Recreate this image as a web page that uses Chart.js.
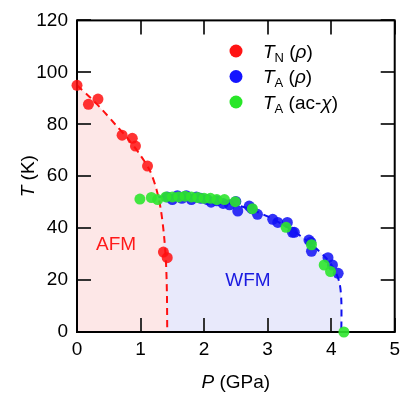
<!DOCTYPE html>
<html><head><meta charset="utf-8">
<script src="https://cdn.jsdelivr.net/npm/chart.js@4"></script>
<style>html,body{margin:0;padding:0;background:#fff}</style>
</head><body>
<canvas id="c" width="406" height="397"></canvas>
<script>
// ---- data ----
const xTickValues = [0, 1, 2, 3, 4, 5];
const yTickValues = [0, 20, 40, 60, 80, 100, 120];

// T_N (rho), red
const tnP = [0, 0.18, 0.33, 0.71, 0.87, 0.92, 1.11, 1.36, 1.42];
const tnT = [95, 87.7, 89.7, 75.8, 74.6, 71.6, 63.9, 30.8, 28.6];

// T_A (rho), blue
const taRhoP = [1.42, 1.5, 1.58, 1.65, 1.72, 1.8, 1.88, 1.95, 2.05, 2.11, 2.2, 2.3, 2.4, 2.5, 2.53, 2.71, 2.75, 2.84, 3.08, 3.16, 3.31, 3.39, 3.42, 3.65, 3.68, 3.69, 3.95, 4.02, 4.11];
const taRhoT = [52, 51, 52.5, 51.5, 52.5, 51, 52, 51.5, 51, 50, 50.5, 49.5, 49, 50.3, 46.6, 48.5, 47.5, 45.3, 43.4, 42.2, 42.2, 38.4, 38.4, 35.4, 34.6, 31.1, 28.6, 25.8, 22.6];

// T_A (ac-chi), green
const taChiP = [0.99, 1.17, 1.27, 1.4, 1.5, 1.6, 1.7, 1.8, 1.9, 2.0, 2.1, 2.2, 2.32, 2.49, 2.76, 3.29, 3.69, 3.89, 3.99, 4.2];
const taChiT = [51.2, 51.8, 51, 52, 52, 52, 52.3, 52, 51.8, 51.5, 51.5, 51, 51, 50.2, 47.5, 40.3, 33.6, 25.8, 23.3, 0];

// dashed phase boundaries (guides to the eye)
const afmLineP = [0, 0.2, 0.4, 0.6, 0.8, 1.0, 1.15, 1.25, 1.32, 1.37, 1.40, 1.415, 1.42];
const afmLineT = [95, 90.5, 85.5, 80, 74.5, 68, 62, 55, 47, 37, 27, 15, 0];
const wfmLineP = [1.27, 1.5, 1.8, 2.1, 2.4, 2.7, 3.0, 3.3, 3.6, 3.9, 4.05, 4.13, 4.16, 4.16];
const wfmLineT = [52, 52.3, 52, 51, 49.5, 47.5, 44.5, 40.5, 35.5, 29, 24, 19, 12, 0];

// region labels
const regionLabels = ['AFM', 'WFM'];
const regionP = [0.3, 2.69];
const regionT = [33.5, 19.7];
const regionColors = ['#ff1a1a', '#1a1ae0'];
const regionAlign = ['left', 'center'];

const zip = (xs, ys) => xs.map((x, i) => ({x: x, y: ys[i]}));
const FONT = '"Liberation Sans", Arial, sans-serif';

function drawRich(ctx, x, y, parts) {
  // parts: [text, italic, size, dy]
  let cx = x;
  for (const [t, it, sz, dy] of parts) {
    ctx.font = (it ? 'italic ' : '') + sz + 'px ' + FONT;
    ctx.fillText(t, cx, y + (dy || 0));
    cx += ctx.measureText(t).width;
  }
  return cx - x;
}
function richWidth(ctx, parts) {
  let w = 0;
  for (const [t, it, sz] of parts) {
    ctx.font = (it ? 'italic ' : '') + sz + 'px ' + FONT;
    w += ctx.measureText(t).width;
  }
  return w;
}

const framePlugin = {
  id: 'frame',
  beforeDatasetDraw(chart, args) {
    if (!chart.data.datasets[args.index].frameBefore) return;
    const ctx = chart.ctx, a = chart.chartArea;
    const xs = chart.scales.x, ys = chart.scales.y;
    ctx.save();
    ctx.strokeStyle = '#333';
    ctx.lineWidth = 2;
    const L = 14;
    ctx.beginPath();
    xTickValues.forEach(v => {
      const px = Math.round(xs.getPixelForValue(v));
      ctx.moveTo(px, a.bottom); ctx.lineTo(px, a.bottom - L);
      ctx.moveTo(px, a.top); ctx.lineTo(px, a.top + L);
    });
    yTickValues.forEach(v => {
      const py = Math.round(ys.getPixelForValue(v));
      ctx.moveTo(a.left, py); ctx.lineTo(a.left + L, py);
      ctx.moveTo(a.right, py); ctx.lineTo(a.right - L, py);
    });
    ctx.stroke();
    ctx.strokeStyle = '#000';
    ctx.strokeRect(a.left, a.top, a.right - a.left, a.bottom - a.top);
    // region labels
    ctx.textBaseline = 'middle';
    regionLabels.forEach((t, i) => {
      ctx.fillStyle = regionColors[i];
      ctx.textAlign = regionAlign[i];
      ctx.font = '19px ' + FONT;
      ctx.fillText(t, xs.getPixelForValue(regionP[i]), ys.getPixelForValue(regionT[i]));
    });
    ctx.restore();
  },
  afterDraw(chart) {
    const ctx = chart.ctx, a = chart.chartArea;
    ctx.save();
    ctx.fillStyle = '#000';
    ctx.textBaseline = 'alphabetic';
    ctx.textAlign = 'left';
    // x title
    const xp = [['P', true, 19], [' (GPa)', false, 19]];
    const xw = richWidth(ctx, xp);
    drawRich(ctx, (a.left + a.right) / 2 - xw / 2, 388, xp);
    // y title
    const yp = [['T', true, 19], [' (K)', false, 19]];
    const yw = richWidth(ctx, yp);
    ctx.save();
    ctx.translate(34, (a.top + a.bottom) / 2);
    ctx.rotate(-Math.PI / 2);
    drawRich(ctx, -yw / 2, 0, yp);
    ctx.restore();
    // legend
    const items = [
      ['rgb(255,20,20)', [['T', true, 19], ['N', false, 13, 4], [' (', false, 19], ['ρ', true, 19], [')', false, 19]]],
      ['rgb(20,20,255)', [['T', true, 19], ['A', false, 13, 4], [' (', false, 19], ['ρ', true, 19], [')', false, 19]]],
      ['rgb(40,230,40)', [['T', true, 19], ['A', false, 13, 4], [' (ac-', false, 19], ['χ', true, 19], [')', false, 19]]]
    ];
    items.forEach((it, i) => {
      const cy = 51 + i * 25.5;
      ctx.fillStyle = it[0];
      ctx.beginPath(); ctx.arc(236, cy, 6.5, 0, Math.PI * 2); ctx.fill();
      ctx.fillStyle = '#000';
      drawRich(ctx, 263, cy + 6.5, it[1]);
    });
    ctx.restore();
  }
};

const chart = new Chart(document.getElementById('c'), {
  type: 'line',
  data: {
    datasets: [
      { label: 'WFM boundary', data: zip(wfmLineP, wfmLineT), borderColor: '#1010f0', borderWidth: 2,
        borderDash: [7, 5], pointRadius: 0, fill: 'origin', backgroundColor: 'rgb(232,233,251)',
        tension: 0.3, order: 5 },
      { label: 'AFM boundary', data: zip(afmLineP, afmLineT), borderColor: '#ff1010', borderWidth: 2,
        borderDash: [7, 5], pointRadius: 0, fill: 'origin', backgroundColor: 'rgb(253,231,231)',
        tension: 0.3, order: 4 },
      { label: 'TN', data: zip(tnP, tnT), showLine: false, pointRadius: 5.5, pointBorderWidth: 0,
        pointBackgroundColor: 'rgba(255,15,15,0.85)', clip: false, order: 3, frameBefore: true },
      { label: 'TA rho', data: zip(taRhoP, taRhoT), showLine: false, pointRadius: 5.5, pointBorderWidth: 0,
        pointBackgroundColor: 'rgba(15,15,245,0.85)', clip: false, order: 2 },
      { label: 'TA chi', data: zip(taChiP, taChiT), showLine: false, pointRadius: 5.5, pointBorderWidth: 0,
        pointBackgroundColor: 'rgba(45,230,45,0.9)', clip: false, order: 1 }
    ]
  },
  options: {
    responsive: false,
    animation: false,
    devicePixelRatio: 1,
    layout: { padding: { top: 14, right: 10, left: 0, bottom: 0 } },
    plugins: { legend: { display: false }, tooltip: { enabled: false } },
    scales: {
      x: {
        type: 'linear', min: 0, max: 5,
        afterBuildTicks: s => { s.ticks = xTickValues.map(v => ({value: v})); },
        afterFit: s => { s.height = 65; },
        grid: { display: false, drawTicks: false, tickLength: 0 },
        border: { display: false },
        ticks: { color: '#000', padding: 6, font: { size: 19, family: FONT }, maxRotation: 0 }
      },
      y: {
        type: 'linear', min: 0, max: 120,
        afterBuildTicks: s => { s.ticks = yTickValues.map(v => ({value: v})); },
        afterFit: s => { s.width = 77; },
        grid: { display: false, drawTicks: false, tickLength: 0 },
        border: { display: false },
        ticks: { color: '#000', padding: 9, font: { size: 19, family: FONT } }
      }
    }
  },
  plugins: [framePlugin]
});
</script>
</body></html>
